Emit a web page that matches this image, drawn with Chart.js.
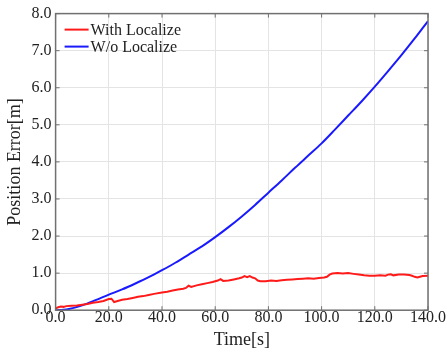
<!DOCTYPE html>
<html lang="en">
<head>
    <meta charset="utf-8">
    <title>Position Error</title>
    <script src="https://cdn.jsdelivr.net/npm/chart.js@4.4.0/dist/chart.umd.min.js"></script>
    <style>
        html, body { margin: 0; padding: 0; background: #fff; }
        #wrap { width: 446px; height: 351px; }
    </style>
</head>
<body>
    <div id="wrap"><canvas id="myChart"></canvas></div>

    <script>
        // data
        var seriesLabels = ['With Localize', 'W/o Localize'];

        var redTime = [0, 1, 2, 3, 4, 6, 8, 10, 12, 14, 16, 18, 20, 21, 22, 23, 25, 27, 29, 31, 33, 35, 37, 40,
            42, 44, 46, 48, 49, 50, 51, 53, 55, 57, 59, 60, 61, 62, 63, 65, 67, 69, 70, 71, 72, 73, 74, 75, 76, 77,
            79, 81, 83, 85, 87, 89, 91, 93, 95, 97, 99, 101, 102, 103, 104, 106, 108, 110, 112, 114, 116, 118, 120,
            122, 124, 125, 126, 127, 129, 131, 133, 134, 135, 136, 137, 138, 140];
        var redError = [0.05, 0.08, 0.10, 0.09, 0.11, 0.12, 0.13, 0.15, 0.17, 0.20, 0.22, 0.25, 0.30, 0.31, 0.22,
            0.24, 0.28, 0.30, 0.33, 0.36, 0.38, 0.41, 0.44, 0.48, 0.50, 0.53, 0.56, 0.58, 0.60, 0.66, 0.63, 0.67,
            0.70, 0.73, 0.76, 0.78, 0.80, 0.84, 0.79, 0.80, 0.83, 0.86, 0.88, 0.92, 0.89, 0.92, 0.88, 0.86, 0.80,
            0.78, 0.78, 0.80, 0.79, 0.81, 0.82, 0.83, 0.84, 0.85, 0.86, 0.85, 0.87, 0.88, 0.90, 0.96, 0.99, 1.00,
            0.99, 1.00, 0.98, 0.96, 0.94, 0.93, 0.93, 0.94, 0.93, 0.96, 0.97, 0.94, 0.96, 0.96, 0.95, 0.93, 0.90,
            0.88, 0.90, 0.92, 0.93];

        var blueTime = [0, 3, 5, 10, 15, 20, 25, 30, 35, 40, 45, 50, 55, 60, 65, 70, 75, 80, 85, 90, 95, 100, 105,
            110, 115, 120, 125, 130, 135, 140];
        var blueError = [0, 0.01, 0.03, 0.13, 0.27, 0.42, 0.56, 0.72, 0.89, 1.08, 1.28, 1.50, 1.72, 1.97, 2.24,
            2.53, 2.84, 3.17, 3.50, 3.84, 4.17, 4.50, 4.87, 5.25, 5.63, 6.03, 6.45, 6.88, 7.33, 7.80];

        var xTicks = [0, 20, 40, 60, 80, 100, 120, 140];
        var yTicks = [0, 1, 2, 3, 4, 5, 6, 7, 8];

        function toPoints(xs, ys) {
            return xs.map(function (x, i) { return { x: x, y: ys[i] }; });
        }

        Chart.defaults.font.family = '"Liberation Serif", "DejaVu Serif", serif';
        Chart.defaults.font.size = 16;
        Chart.defaults.color = '#222';

        // box round the plot, inward ticks on all four sides, and the legend inside
        var framePlugin = {
            id: 'frame',
            afterDraw: function (chart) {
                var c = chart.ctx, a = chart.chartArea;
                var xs = chart.scales.x, ys = chart.scales.y;
                c.save();
                c.strokeStyle = '#707070';
                c.lineWidth = 1.5;
                c.strokeRect(a.left, a.top, a.right - a.left, a.bottom - a.top);
                c.lineWidth = 1;
                c.beginPath();
                xTicks.forEach(function (v) {
                    var px = xs.getPixelForValue(v);
                    c.moveTo(px, a.bottom); c.lineTo(px, a.bottom - 4);
                    c.moveTo(px, a.top); c.lineTo(px, a.top + 4);
                });
                yTicks.forEach(function (v) {
                    var py = ys.getPixelForValue(v);
                    c.moveTo(a.left, py); c.lineTo(a.left + 4, py);
                    c.moveTo(a.right, py); c.lineTo(a.right - 4, py);
                });
                c.stroke();

                // legend
                c.font = '16px "Liberation Serif", serif';
                c.textBaseline = 'middle';
                chart.data.datasets.forEach(function (ds, i) {
                    var y = a.top + 16 + i * 17;
                    c.strokeStyle = ds.borderColor;
                    c.lineWidth = 2;
                    c.beginPath();
                    c.moveTo(a.left + 9, y); c.lineTo(a.left + 33, y);
                    c.stroke();
                    c.fillStyle = '#222';
                    c.fillText(ds.label, a.left + 35, y + 1);
                });
                c.restore();
            }
        };

        var ctx = document.getElementById('myChart').getContext('2d');
        var myChart = new Chart(ctx, {
            type: 'line',
            data: {
                datasets: [{
                    label: seriesLabels[0],
                    data: toPoints(redTime, redError),
                    borderColor: '#ff1a1a',
                    borderWidth: 2,
                    pointRadius: 0,
                    tension: 0
                }, {
                    label: seriesLabels[1],
                    data: toPoints(blueTime, blueError),
                    borderColor: '#1a1aff',
                    borderWidth: 2,
                    pointRadius: 0,
                    cubicInterpolationMode: 'monotone'
                }]
            },
            options: {
                responsive: true,
                maintainAspectRatio: false,
                animation: false,
                layout: { padding: { top: 12, left: 4, right: 0, bottom: 1 } },
                plugins: {
                    legend: { display: false },
                    tooltip: { enabled: false }
                },
                scales: {
                    x: {
                        type: 'linear',
                        min: 0,
                        max: 140,
                        afterBuildTicks: function (axis) {
                            axis.ticks = xTicks.map(function (v) { return { value: v }; });
                        },
                        ticks: {
                            padding: 0,
                            maxRotation: 0,
                            font: { lineHeight: 1 },
                            callback: function (v) { return v.toFixed(1); }
                        },
                        grid: { color: '#e4e4e4', drawTicks: false },
                        border: { display: false },
                        title: {
                            display: true,
                            text: 'Time[s]',
                            font: { size: 18, lineHeight: 1.1 },
                            padding: { top: 4, bottom: 0 }
                        }
                    },
                    y: {
                        min: 0,
                        max: 8,
                        afterBuildTicks: function (axis) {
                            axis.ticks = yTicks.map(function (v) { return { value: v }; });
                        },
                        ticks: {
                            padding: 4,
                            callback: function (v) { return v.toFixed(1); }
                        },
                        grid: { color: '#e4e4e4', drawTicks: false },
                        border: { display: false },
                        title: {
                            display: true,
                            text: 'Position Error[m]',
                            font: { size: 18 },
                            padding: { top: 0, bottom: 2 }
                        }
                    }
                }
            },
            plugins: [framePlugin]
        });
    </script>
</body>
</html>
